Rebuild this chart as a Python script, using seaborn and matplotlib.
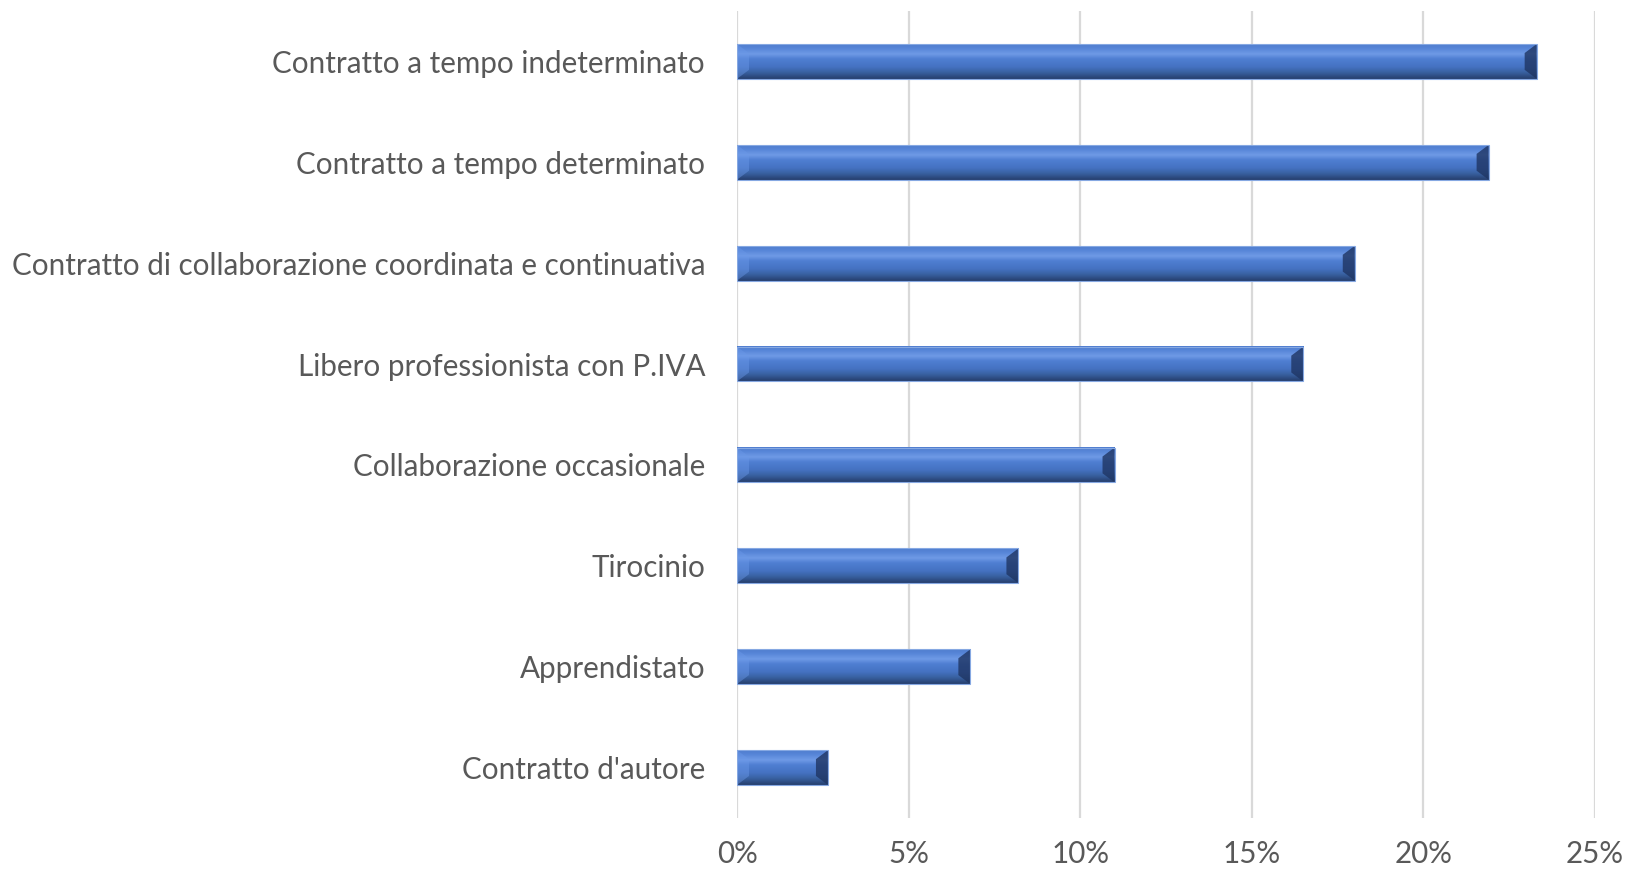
import numpy as np
import pandas as pd
import seaborn as sns
import matplotlib
matplotlib.use("Agg")
import matplotlib.pyplot as plt
from matplotlib.patches import Polygon
from matplotlib.colors import LinearSegmentedColormap
from matplotlib.ticker import FuncFormatter, MultipleLocator

categories = [
    "Contratto a tempo indeterminato",
    "Contratto a tempo determinato",
    "Contratto di collaborazione coordinata e continuativa",
    "Libero professionista con P.IVA",
    "Collaborazione occasionale",
    "Tirocinio",
    "Apprendistato",
    "Contratto d'autore",
]
values = [23.3, 21.9, 18.0, 16.5, 11.0, 8.2, 6.8, 2.65]

sns.set_theme(style="white")
plt.rcParams["font.family"] = ["Lato", "DejaVu Sans"]

df = pd.DataFrame({"cat": categories, "val": values})

fig = plt.figure(figsize=(16.27, 8.74), dpi=100)
ax = fig.add_axes([737 / 1627, 1 - 818 / 874, (1595 - 737) / 1627, (818 - 11) / 874])

sns.barplot(data=df, y="cat", x="val", orient="h", color="#4472C4",
            width=0.345, ax=ax, saturation=1, zorder=3)

ax.set_xlim(0, 25)
ax.set_ylim(7.5, -0.5)
ax.xaxis.set_major_locator(MultipleLocator(5))
ax.xaxis.set_major_formatter(FuncFormatter(lambda v, p: f"{v:.0f}%"))
ax.grid(axis="x", color="#d9d9d9", linewidth=1.6, zorder=0)
ax.grid(axis="y", visible=False)
for s in ax.spines.values():
    s.set_visible(False)
ax.set_xlabel("")
ax.set_ylabel("")
ax.tick_params(axis="y", labelsize=21.3, labelcolor="#595959", pad=23, length=0)
ax.tick_params(axis="x", labelsize=21.3, labelcolor="#595959", pad=16, length=0)

# bevel effect
px_x = 25 / (1595 - 737)   # data units per pixel in x
px_y = 1 / ((818 - 11) / 8)  # data units per pixel in y
cmap = LinearSegmentedColormap.from_list(
    "bev",
    [(0.0, "#4f7dcf"), (0.12, "#5786d8"), (0.28, "#6f9ae6"), (0.42, "#4f7fd2"),
     (0.65, "#4572c2"), (0.82, "#38609f"), (1.0, "#263f6e")])
grad = np.linspace(0, 1, 80).reshape(-1, 1)
for p in ax.patches:
    x0, y0 = p.get_x(), p.get_y()
    w, h = p.get_width(), p.get_height()
    x1, y1 = x0 + w, y0 + h   # y0 top (inverted axis), y1 bottom
    bx = min(12 * px_x, w / 3)
    by = 9 * px_y
    p.set_facecolor("#4775C8")
    p.set_edgecolor("none")
    im = ax.imshow(grad, extent=(x0, x1, y1, y0), aspect="auto", cmap=cmap,
                   zorder=4, interpolation="bilinear")
    # right bevel (dark)
    ax.add_patch(Polygon([(x1, y0), (x1, y1), (x1 - bx, y1 - by), (x1 - bx, y0 + by)],
                         closed=True, facecolor="#1f3563", alpha=0.8,
                         edgecolor="none", zorder=5))
    # left bevel (light)
    ax.add_patch(Polygon([(x0, y0), (x0, y1), (x0 + bx, y1 - by), (x0 + bx, y0 + by)],
                         closed=True, facecolor="#6a98e8", alpha=0.45,
                         edgecolor="none", zorder=5))
    ax.add_patch(Polygon([(x0, y0), (x1, y0), (x1, y1), (x0, y1)], closed=True,
                         facecolor="none", edgecolor="#86a8e2", linewidth=0.8, zorder=6))

ax.set_xlim(0, 25)
ax.set_ylim(7.5, -0.5)

fig.savefig("out.png", dpi=100)
